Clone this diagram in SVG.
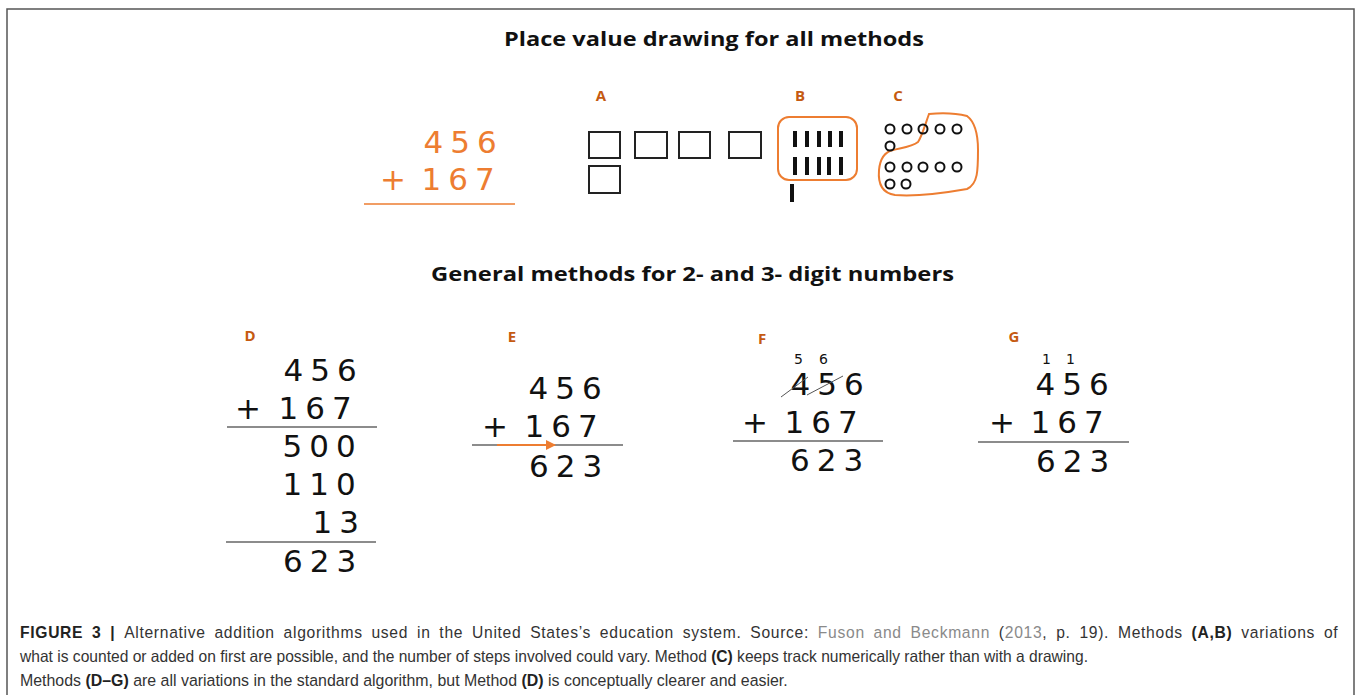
<svg xmlns="http://www.w3.org/2000/svg" width="1360" height="695" viewBox="0 0 1360 695">
<defs>
<style>
.frame{fill:none;stroke:#555;stroke-width:1.5}
.title{font-family:"Open Sans",Lato,sans-serif;font-weight:bold;font-size:20px;fill:#111}
.lbl{font-family:"Open Sans","Liberation Sans",sans-serif;font-weight:bold;font-size:15px;fill:#C55A11}
.num{font-family:"DejaVu Sans",sans-serif;font-size:31px;fill:#111;letter-spacing:7px}
.onum{font-family:"DejaVu Sans",sans-serif;font-size:31px;fill:#ED7D31;letter-spacing:7px}
.small{font-family:"DejaVu Sans",sans-serif;font-size:14px;fill:#111}
.rule{stroke:#666;stroke-width:1.5}
.sq{fill:none;stroke:#222;stroke-width:2}
.bar{fill:#111}
.dot{fill:none;stroke:#111;stroke-width:2}
.orange{fill:none;stroke:#ED7D31;stroke-width:2}
.cap{font-family:"Liberation Sans",Arial,sans-serif;font-size:16.5px;fill:#333}
.b{font-weight:bold;fill:#222}
.link{fill:#8a8a8a}
</style>
<marker id="arr" markerWidth="10" markerHeight="10" refX="9" refY="5" orient="auto" markerUnits="userSpaceOnUse">
<path d="M0,0 L10,5 L0,10 Z" fill="#ED7D31"/>
</marker>
</defs>
<rect width="1360" height="695" fill="#fff"/>
<path class="frame" d="M7,695 V9 H1354 V695"/>

<g id="title1"><text class="title" x="504" y="46" textLength="420" lengthAdjust="spacingAndGlyphs">Place value drawing for all methods</text></g>

<g id="problem">
<text class="onum" x="423.5" y="153">456</text>
<text class="onum" x="380" y="190">+</text>
<text class="onum" x="421.6" y="190">167</text>
<line x1="364" y1="204" x2="515" y2="204" stroke="#ED7D31" stroke-width="1.5"/>
</g>

<g id="A">
<text class="lbl" x="601" y="101" text-anchor="middle">A</text>
<rect class="sq" x="589" y="132" width="31" height="26"/>
<rect class="sq" x="635" y="132" width="32" height="26"/>
<rect class="sq" x="679" y="132" width="31" height="26"/>
<rect class="sq" x="729" y="132" width="32" height="26"/>
<rect class="sq" x="589" y="166" width="31" height="27"/>
</g>

<g id="B">
<text class="lbl" x="800" y="101" text-anchor="middle">B</text>
<rect class="orange" x="778" y="117" width="79" height="63" rx="11"/>
<rect class="bar" x="793" y="131" width="4" height="16"/>
<rect class="bar" x="805" y="131" width="4" height="16"/>
<rect class="bar" x="817" y="131" width="4" height="16"/>
<rect class="bar" x="828" y="131" width="4" height="16"/>
<rect class="bar" x="839" y="131" width="4" height="16"/>
<rect class="bar" x="793" y="157" width="4" height="18"/>
<rect class="bar" x="805" y="157" width="4" height="18"/>
<rect class="bar" x="817" y="157" width="4" height="18"/>
<rect class="bar" x="827" y="157" width="4" height="18"/>
<rect class="bar" x="839" y="157" width="4" height="18"/>
<rect class="bar" x="790" y="184" width="4" height="18"/>
</g>

<g id="C">
<text class="lbl" x="898" y="101" text-anchor="middle">C</text>
<path class="orange" d="M929,114 C925,125 922,136 918,142 C912,147 900,148 893,150 C884,152 880,160 879,170 C878,182 881,193 895,195 C920,197 950,192 967,189 C978,184 978,170 978,150 C978,135 975,122 967,116 C955,113 940,113 929,114 Z"/>
<circle class="dot" cx="890" cy="129" r="4.5"/>
<circle class="dot" cx="907" cy="129" r="4.5"/>
<circle class="dot" cx="923" cy="129" r="4.5"/>
<circle class="dot" cx="940" cy="129" r="4.5"/>
<circle class="dot" cx="957" cy="129" r="4.5"/>
<circle class="dot" cx="890" cy="146" r="4.5"/>
<circle class="dot" cx="890" cy="167" r="4.5"/>
<circle class="dot" cx="907" cy="167" r="4.5"/>
<circle class="dot" cx="923" cy="167" r="4.5"/>
<circle class="dot" cx="940" cy="167" r="4.5"/>
<circle class="dot" cx="957" cy="167" r="4.5"/>
<circle class="dot" cx="890" cy="184" r="4.5"/>
<circle class="dot" cx="906" cy="184" r="4.5"/>
</g>

<g id="title2"><text class="title" x="431" y="281" textLength="523" lengthAdjust="spacingAndGlyphs">General methods for 2- and 3- digit numbers</text></g>

<g id="D">
<text class="lbl" x="250" y="341" text-anchor="middle">D</text>
<text class="num" x="283.5" y="381">456</text>
<text class="num" x="235" y="419">+</text>
<text class="num" x="278.6" y="419">167</text>
<line class="rule" x1="227" y1="427" x2="377" y2="427"/>
<text class="num" x="282.5" y="457">500</text>
<text class="num" x="282.6" y="495">110</text>
<text class="num" x="312.6" y="533">13</text>
<line class="rule" x1="226" y1="542" x2="376" y2="542"/>
<text class="num" x="283" y="572">623</text>
</g>

<g id="E">
<text class="lbl" x="512" y="342" text-anchor="middle">E</text>
<text class="num" x="528.5" y="399">456</text>
<text class="num" x="482" y="437">+</text>
<text class="num" x="524.6" y="437">167</text>
<line class="rule" x1="472" y1="445" x2="623" y2="445"/>
<text class="num" x="529" y="477">623</text>
</g>

<g id="F">
<text class="lbl" x="762" y="344" text-anchor="middle">F</text>
<text class="small" x="794" y="364">5</text>
<text class="small" x="819" y="364">6</text>
<text class="num" x="790.5" y="395">456</text>
<line x1="781" y1="397" x2="808" y2="377" stroke="#555" stroke-width="1"/>
<line x1="807" y1="395" x2="843" y2="376" stroke="#555" stroke-width="1"/>
<text class="num" x="742" y="433">+</text>
<text class="num" x="784.6" y="433">167</text>
<line class="rule" x1="733" y1="441" x2="883" y2="441"/>
<text class="num" x="790" y="471">623</text>
</g>

<g id="G">
<text class="lbl" x="1014" y="342" text-anchor="middle">G</text>
<text class="small" x="1042" y="364">1</text>
<text class="small" x="1066" y="364">1</text>
<text class="num" x="1035.5" y="395">456</text>
<text class="num" x="989" y="433">+</text>
<text class="num" x="1030.6" y="433">167</text>
<line class="rule" x1="978" y1="442" x2="1129" y2="442"/>
<text class="num" x="1036" y="472">623</text>
</g>

<g id="connectors">
<line x1="497" y1="445" x2="555" y2="445" stroke="#ED7D31" stroke-width="2" marker-end="url(#arr)"/>
</g>

<g id="caption">
<text class="cap" transform="translate(20,0) scale(0.95,1)" x="0" y="638" word-spacing="4" textLength="1387" lengthAdjust="spacing"><tspan class="b">FIGURE 3 | </tspan>Alternative addition algorithms used in the United States’s education system. Source: <tspan class="link">Fuson and Beckmann</tspan> (<tspan class="link">2013</tspan>, p. 19). Methods <tspan class="b">(A,B)</tspan> variations of</text>
<text class="cap" transform="translate(20,0) scale(0.945,1)" x="0" y="662">what is counted or added on first are possible, and the number of steps involved could vary. Method <tspan class="b">(C)</tspan> keeps track numerically rather than with a drawing.</text>
<text class="cap" transform="translate(20,0) scale(0.965,1)" x="0" y="686">Methods <tspan class="b">(D–G)</tspan> are all variations in the standard algorithm, but Method <tspan class="b">(D)</tspan> is conceptually clearer and easier.</text>
</g>
</svg>
